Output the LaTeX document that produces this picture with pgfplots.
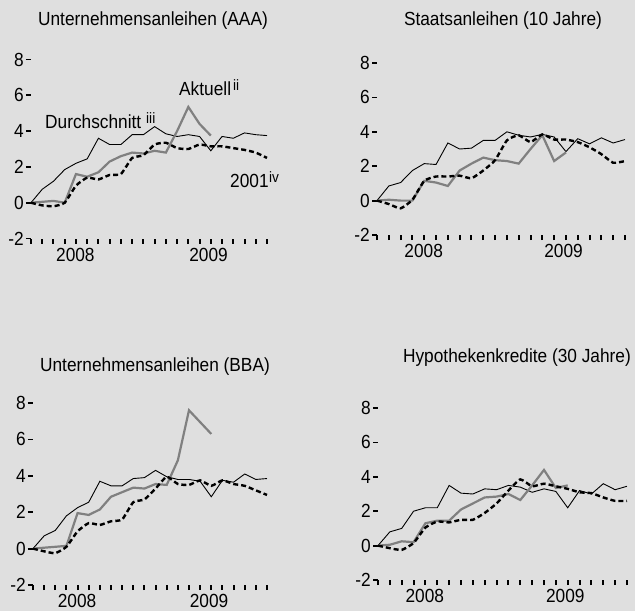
\documentclass[border=0pt]{standalone}
\usepackage{pgfplots}
\pgfplotsset{compat=1.18}
\usepackage{fontspec}
\setmainfont[FakeStretch=0.91]{Liberation Sans}
\definecolor{bg}{HTML}{DFDFDF}
\definecolor{aktc}{HTML}{808080}
\newcommand{\lab}{\fontsize{19}{22}\selectfont}
\newcommand{\supf}{\fontsize{15}{16}\selectfont}
\pgfplotsset{
 panel/.style={
  scale only axis, anchor=south west,
  xmin=0, xmax=21, ymin=-2, ymax=8,
  axis line style={draw=none},
  tick align=outside,
  xtick={0,1,2,3,4,5,6,7,8,9,10,11,12,13,14,15,16,17,18,19,20,21},
  xticklabel=\empty,
  ytick={-2,0,2,4,6,8}, yticklabels={-2,0,2,4,6,8},
  major tick length=5pt,
  xtick style={black, line width=2pt},
  ytick style={black, line width=1.8pt},
  xtick pos=bottom, ytick pos=left,
  yticklabel style={inner xsep=2pt},
  ticklabel style={font=\lab, text=black},
  clip=false,
 },
 avg/.style={black, line width=0.9pt},
 akt/.style={aktc, line width=2.2pt},
 y01/.style={black, line width=2.4pt, dash pattern=on 5pt off 3pt},
}
\begin{document}
\begin{tikzpicture}[x=1pt,y=1pt]
\useasboundingbox[fill=bg] (0,0) rectangle (635,-611);

% Panel 1
\begin{axis}[panel, at={(31pt,-238.5pt)}, width=236pt, height=179pt]
\addplot[avg] coordinates {(0,0) (1,0.75) (2,1.2) (3,1.85) (4,2.2) (5,2.45) (6,3.6) (7,3.25) (8,3.25) (9,3.8) (10,3.8) (11,4.25) (12,3.85) (13,3.7) (14,3.8) (15,3.7) (16,2.9) (17,3.7) (18,3.6) (19,3.9) (20,3.8) (21,3.75)};
\addplot[akt] coordinates {(0,0) (1,0.05) (2,0.1) (3,0) (4,1.6) (5,1.45) (6,1.7) (7,2.3) (8,2.6) (9,2.8) (10,2.75) (11,2.9) (12,2.8) (13,4.0) (14,5.35) (15,4.4) (16,3.75)};
\addplot[y01, smooth, tension=0.3] coordinates {(0,0) (1,-0.15) (2,-0.2) (3,0) (4,0.95) (5,1.4) (6,1.3) (7,1.55) (8,1.6) (9,2.5) (10,2.65) (11,3.25) (12,3.35) (13,3.05) (14,3.0) (15,3.25) (16,3.15) (17,3.15) (18,3.05) (19,2.95) (20,2.8) (21,2.5)};
\node[anchor=north, font=\lab, yshift=-6pt] at (axis cs:3.95,-2) {2008};
\node[anchor=north, font=\lab, yshift=-6pt] at (axis cs:15.8,-2) {2009};
\end{axis}

% Panel 2
\begin{axis}[panel, at={(377pt,-235pt)}, width=248pt, height=172pt]
\addplot[avg] coordinates {(0,0) (1,0.85) (2,1.05) (3,1.75) (4,2.15) (5,2.1) (6,3.35) (7,3.0) (8,3.05) (9,3.5) (10,3.5) (11,4.0) (12,3.8) (13,3.7) (14,3.85) (15,3.7) (16,2.85) (17,3.6) (18,3.3) (19,3.65) (20,3.35) (21,3.55)};
\addplot[akt] coordinates {(0,0) (1,0.05) (2,0) (3,0) (4,1.15) (5,1.05) (6,0.85) (7,1.75) (8,2.15) (9,2.5) (10,2.35) (11,2.3) (12,2.15) (13,3.0) (14,3.8) (15,2.3) (16,2.8)};
\addplot[y01, smooth, tension=0.3] coordinates {(0,0) (1,-0.2) (2,-0.45) (3,0.05) (4,1.15) (5,1.4) (6,1.4) (7,1.45) (8,1.3) (9,1.75) (10,2.35) (11,3.5) (12,3.8) (13,3.4) (14,3.85) (15,3.55) (16,3.55) (17,3.4) (18,3.1) (19,2.7) (20,2.2) (21,2.3)};
\node[anchor=north, font=\lab, yshift=-6pt] at (axis cs:3.95,-2) {2008};
\node[anchor=north, font=\lab, yshift=-6pt] at (axis cs:15.8,-2) {2009};
\end{axis}

% Panel 3
\begin{axis}[panel, at={(33pt,-585pt)}, width=234pt, height=182pt]
\addplot[avg] coordinates {(0,0) (1,0.7) (2,1.0) (3,1.8) (4,2.25) (5,2.55) (6,3.7) (7,3.45) (8,3.45) (9,3.85) (10,3.9) (11,4.3) (12,3.95) (13,3.8) (14,3.8) (15,3.7) (16,2.85) (17,3.75) (18,3.65) (19,4.1) (20,3.8) (21,3.85)};
\addplot[akt] coordinates {(0,0) (1,0.05) (2,0.1) (3,0.15) (4,1.95) (5,1.85) (6,2.15) (7,2.85) (8,3.1) (9,3.35) (10,3.3) (11,3.55) (12,3.5) (13,4.85) (14,7.6) (15,6.95) (16,6.3)};
\addplot[y01, smooth, tension=0.3] coordinates {(0,0) (1,-0.15) (2,-0.25) (3,0.1) (4,0.95) (5,1.4) (6,1.3) (7,1.5) (8,1.6) (9,2.55) (10,2.7) (11,3.3) (12,3.95) (13,3.55) (14,3.5) (15,3.75) (16,3.45) (17,3.75) (18,3.55) (19,3.45) (20,3.2) (21,2.95)};
\node[anchor=north, font=\lab, yshift=-6pt] at (axis cs:3.95,-2) {2008};
\node[anchor=north, font=\lab, yshift=-6pt] at (axis cs:15.8,-2) {2009};
\end{axis}

% Panel 4
\begin{axis}[panel, at={(378pt,-580pt)}, width=249pt, height=172pt]
\addplot[avg] coordinates {(0,0) (1,0.8) (2,1.0) (3,2.0) (4,2.2) (5,2.2) (6,3.5) (7,3.05) (8,3.0) (9,3.3) (10,3.25) (11,3.5) (12,3.4) (13,3.1) (14,3.3) (15,3.15) (16,2.2) (17,3.2) (18,3.0) (19,3.6) (20,3.25) (21,3.45)};
\addplot[akt] coordinates {(0,0) (1,0.05) (2,0.25) (3,0.2) (4,1.3) (5,1.45) (6,1.45) (7,2.1) (8,2.45) (9,2.8) (10,2.85) (11,3.0) (12,2.65) (13,3.5) (14,4.4) (15,3.35) (16,3.5)};
\addplot[y01, smooth, tension=0.3] coordinates {(0,0) (1,-0.15) (2,-0.25) (3,0.15) (4,1.05) (5,1.4) (6,1.35) (7,1.5) (8,1.5) (9,1.9) (10,2.45) (11,3.2) (12,3.85) (13,3.45) (14,3.6) (15,3.45) (16,3.3) (17,3.1) (18,3.05) (19,2.8) (20,2.6) (21,2.6)};
\node[anchor=north, font=\lab, yshift=-6pt] at (axis cs:3.95,-2) {2008};
\node[anchor=north, font=\lab, yshift=-6pt] at (axis cs:15.8,-2) {2009};
\end{axis}

% Titles
\node[anchor=base, font=\lab] at (153,-25) {Unternehmensanleihen (AAA)};
\node[anchor=base, font=\lab] at (503,-25) {Staatsanleihen (10 Jahre)};
\node[anchor=base, font=\lab] at (155,-371) {Unternehmensanleihen (BBA)};
\node[anchor=base, font=\lab] at (517,-362) {Hypothekenkredite (30 Jahre)};

% Annotations
\node[anchor=base west, font=\lab, inner sep=0pt] at (179,-95) {Aktuell};
\node[anchor=base west, font=\supf, inner sep=0pt] at (233,-90.5) {ii};
\node[anchor=base west, font=\lab, inner sep=0pt] at (45,-128) {Durchschnitt};
\node[anchor=base west, font=\supf, inner sep=0pt] at (146,-123) {iii};
\node[anchor=base west, font=\lab, inner sep=0pt] at (230,-187) {2001};
\node[anchor=base west, font=\supf, inner sep=0pt] at (269,-182.5) {iv};
\end{tikzpicture}
\end{document}
